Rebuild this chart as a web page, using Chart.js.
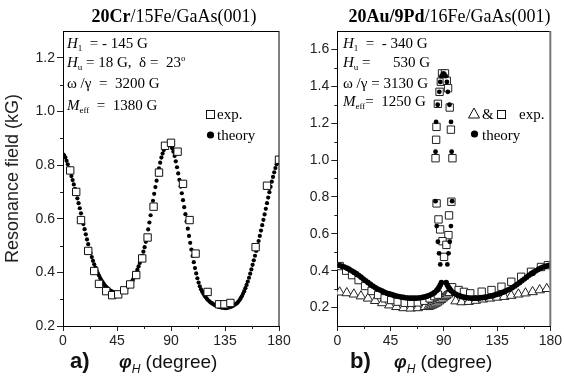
<!DOCTYPE html>
<html>
<head>
<meta charset="utf-8">
<script src="https://cdn.jsdelivr.net/npm/chart.js@4.4.0/dist/chart.umd.min.js"></script>
<style>
  body { margin: 0; background: #fff; }
  #wrap { position: relative; width: 564px; height: 377px; overflow: hidden; }
  canvas { position: absolute; top: 0; }
</style>
</head>
<body>
<div id="wrap">
  <canvas id="chartA" width="300" height="377" style="left:0"></canvas>
  <canvas id="chartB" width="282" height="377" style="left:282px"></canvas>
</div>
<script>
// ---- panel a) 20Cr/15Fe/GaAs(001) ----
const xTicks = [0, 45, 90, 135, 180];
const yTicksA = [0.2, 0.4, 0.6, 0.8, 1.0, 1.2];
const yTicksB = [0.2, 0.4, 0.6, 0.8, 1.0, 1.2, 1.4, 1.6];

const phiTheoryA = Array.from({ length: 181 }, (_, i) => i);
const fieldTheoryA = [
  .840, .836, .828, .816, .803, .789, .774, .759, .744, .728,
  .711, .694, .676, .658, .639, .620, .600, .580, .561, .542,
  .523, .505, .488, .472, .457, .443, .430, .418, .407, .397,
  .388, .379, .371, .364, .357, .351, .346, .341, .337, .333,
  .330, .328, .326, .324, .323, .322, .322, .323, .325, .327,
  .329, .332, .336, .341, .346, .351, .357, .364, .371, .380,
  .389, .399, .410, .422, .435, .448, .462, .477, .494, .514,
  .536, .560, .586, .613, .640, .667, .693, .718, .742, .765,
  .788, .809, .828, .843, .856, .866, .873, .877, .879, .877,
  .872, .863, .850, .834, .814, .792, .769, .745, .720, .695,
  .669, .643, .617, .590, .563, .536, .510, .485, .461, .438,
  .416, .396, .378, .362, .348, .337, .328, .320, .313, .307,
  .301, .296, .292, .288, .285, .282, .279, .277, .275, .273,
  .271, .270, .269, .268, .268, .267, .267, .268, .269, .270,
  .272, .274, .276, .279, .282, .285, .290, .296, .303, .311,
  .320, .330, .341, .353, .366, .380, .395, .411, .428, .445,
  .462, .480, .498, .517, .536, .556, .576, .596, .616, .637,
  .658, .679, .699, .719, .738, .756, .773, .789, .803, .815, .825
];
const phiExpA = [6, 11, 15, 21, 26, 30, 36, 41, 46, 51, 56, 61, 66, 70.5, 75.5, 80, 85, 90, 95.5,
  100, 105.5, 110.5, 120.5, 130, 134.5, 139.5, 160.5, 170, 180];
const fieldExpA = [.78, .70, .595, .48, .405, .357, .33, .315, .318, .333, .355, .39, .452, .53, .645,
  .772, .872, .883, .85, .73, .595, .47, .327, .281, .281, .286, .494, .723, .82];

// ---- panel b) 20Au/9Pd/16Fe/GaAs(001) ----
const phiTheoryB = [0, 2, 4, 6, 8, 10, 12, 14, 16, 18, 20, 22, 24, 26, 28, 30, 32, 34, 36, 38, 40, 42, 44,
  46, 48, 50, 52, 54, 56, 58, 60, 62, 64, 66, 68, 70, 72, 74, 76, 78, 80, 82, 84, 85, 86, 87, 88,
  92, 93, 94, 95, 96, 98, 100, 102, 104, 106, 108, 110, 112, 114, 116, 118, 120, 122, 124, 126, 128,
  130, 132, 134, 136, 138, 140, 142, 144, 146, 148, 150, 152, 154, 156, 158, 160, 162, 164, 166, 168,
  170, 172, 174, 176, 178, 180];
const fieldTheoryB = [.430, .428, .424, .420, .414, .408, .400, .392, .384, .375, .365, .355, .345, .335,
  .326, .317, .309, .301, .295, .289, .283, .278, .274, .270, .266, .263, .260, .257, .255, .253, .252,
  .251, .251, .251, .252, .253, .255, .258, .262, .267, .273, .281, .292, .300, .310, .322, .335,
  .335, .322, .310, .300, .292, .281, .273, .267, .262, .258, .255, .253, .252, .251, .251, .251, .252,
  .253, .255, .257, .260, .263, .266, .270, .274, .278, .283, .289, .295, .301, .309, .317, .326, .335,
  .345, .355, .365, .375, .384, .392, .400, .408, .414, .420, .424, .428, .430];
const phiPeakB = [87, 93, 86, 94, 85, 95, 84, 96, 83, 97, 83, 96.6, 83.5, 96.1, 84.8, 94.8, 86.2, 93.4,
  87, 92.6, 88, 91.6, 89, 90.6, 89.8];
const fieldPeakB = [.434, .434, .494, .494, .557, .557, .642, .642, .777, .777, 1.045, 1.045, 1.207, 1.207,
  1.30, 1.30, 1.37, 1.37, 1.424, 1.424, 1.455, 1.455, 1.465, 1.465, 1.47];
const phiSquareB = [2, 7.5, 12.5, 18, 23.5, 29, 34.5, 40, 45.5, 51, 57, 62.5, 68, 73.5, 78, 82, 85,
  83, 97.3, 83.5, 83.8, 96, 85, 95, 86.4, 93.6, 87.5, 92.5, 88.5, 91,
  83.9, 96.4, 94.4, 85.5, 86.9, 93.9, 88.9, 92.2, 90.2,
  97, 102.5, 107, 112.3, 122, 130.3, 138.7, 147, 155.4, 163.7, 172.1, 178];
const fieldSquareB = [.425, .40, .376, .349, .317, .29, .268, .25, .241, .232, .226, .226, .228, .237, .25, .262, .27,
  1.01, 1.01, 1.11, 1.18, 1.165, 1.305, 1.285, 1.37, 1.39, 1.425, 1.43, 1.47, 1.47,
  .765, .774, .70, .678, .624, .593, .56, .54, .475,
  .31, .295, .285, .277, .286, .295, .313, .34, .367, .394, .42, .43];
const phiTriangleB = [2, 8, 14, 20, 26, 32, 38, 44, 50, 56, 62, 68, 74,
  77, 78.5, 80, 81.5, 83, 84.5, 86, 87.5, 89, 90.5, 92, 93.5, 95,
  100, 105, 111, 117, 123, 129, 135, 141, 147, 153, 159, 165, 171, 177];
const fieldTriangleB = [.283, .279, .272, .262, .25, .237, .225, .213, .204, .198, .196, .198, .204,
  .205, .208, .212, .217, .222, .228, .235, .242, .25, .258, .265, .272, .28,
  .235, .230, .232, .238, .245, .25, .255, .259, .265, .272, .278, .285, .295, .302];

const axisFont = { family: 'Liberation Sans', size: 14 };
const serif = 'Liberation Serif';
const sans = 'Liberation Sans';

function pts(xs, ys) {
  return xs.map((x, i) => ({ x: x, y: ys[i] }));
}

function drawRich(ctx, x, y, segs, align) {
  let w = 0;
  segs.forEach(s => { ctx.font = s.f; w += ctx.measureText(s.t).width; });
  let cx = align === 'center' ? x - w / 2 : x;
  ctx.textAlign = 'left';
  ctx.textBaseline = 'alphabetic';
  segs.forEach(s => {
    ctx.font = s.f;
    ctx.fillText(s.t, cx, y + (s.dy || 0));
    cx += ctx.measureText(s.t).width;
  });
}

// frame on top/right, minor ticks, and all the text
function panelPlugin(cfg) {
  return {
    id: 'panel',
    afterDraw(chart) {
      const ctx = chart.ctx;
      const a = chart.chartArea;
      const xs = chart.scales.x, ys = chart.scales.y;
      ctx.save();
      ctx.lineWidth = 1;
      ctx.strokeStyle = '#000';
      ctx.beginPath();
      ctx.moveTo(a.left, a.top + 0.5);
      ctx.lineTo(a.right, a.top + 0.5);
      ctx.stroke();
      ctx.strokeStyle = cfg.rightColor;
      ctx.lineWidth = cfg.rightWidth;
      ctx.beginPath();
      ctx.moveTo(a.right, a.top);
      ctx.lineTo(a.right, a.bottom);
      ctx.stroke();
      // minor ticks
      ctx.strokeStyle = '#222';
      ctx.lineWidth = 1;
      ctx.beginPath();
      cfg.minorY.forEach(v => {
        const py = Math.round(ys.getPixelForValue(v)) + 0.5;
        ctx.moveTo(a.left - 3, py);
        ctx.lineTo(a.left, py);
      });
      cfg.minorX.forEach(v => {
        const px = Math.round(xs.getPixelForValue(v)) + 0.5;
        ctx.moveTo(px, a.bottom);
        ctx.lineTo(px, a.bottom + 3);
      });
      ctx.stroke();

      ctx.fillStyle = '#000';
      drawRich(ctx, cfg.titleX, 22, cfg.title, 'center');
      cfg.notes.forEach(n => drawRich(ctx, n.x, n.y, n.segs));
      cfg.legend(ctx);
      ctx.fillStyle = '#111';
      drawRich(ctx, cfg.tagX, 368, [{ t: cfg.tag, f: 'bold 22px ' + sans }]);
      drawRich(ctx, cfg.labelX, 368, [
        { t: 'φ', f: 'bold italic 18px ' + sans },
        { t: 'H', f: 'italic 12px ' + sans, dy: 5 },
        { t: ' (degree)', f: '19px ' + sans }
      ]);
      ctx.restore();
    }
  };
}

function ital(t) { return { t: t, f: 'italic 15px ' + serif }; }
function rom(t) { return { t: t, f: '15px ' + serif }; }
function sub(t) { return { t: t, f: '9px ' + serif, dy: 3 }; }
function sup(t) { return { t: t, f: '9px ' + serif, dy: -6 }; }

function makeChart(id, datasets, yMin, yMax, yTicks, yWidth, padRight, yTitle, plugin) {
  return new Chart(document.getElementById(id), {
    type: 'scatter',
    data: { datasets: datasets },
    options: {
      responsive: false,
      animation: false,
      layout: { padding: { left: 0, right: padRight, top: 31, bottom: 0 } },
      plugins: { legend: { display: false }, tooltip: { enabled: false } },
      scales: {
        x: {
          type: 'linear', min: 0, max: 180,
          afterBuildTicks: s => { s.ticks = xTicks.map(v => ({ value: v })); },
          ticks: { font: axisFont, color: '#222', padding: 2, maxRotation: 0 },
          grid: { drawOnChartArea: false, tickLength: 5, color: '#222' },
          border: { color: '#000', width: 1 },
          afterFit: s => { s.height = 51; }
        },
        y: {
          type: 'linear', min: yMin, max: yMax,
          afterBuildTicks: s => { s.ticks = yTicks.map(v => ({ value: v })); },
          ticks: {
            font: axisFont, color: '#222', padding: 2,
            callback: v => v.toFixed(1)
          },
          grid: { drawOnChartArea: false, tickLength: 6, color: '#222' },
          border: { color: '#000', width: 1 },
          title: {
            display: !!yTitle, text: yTitle || '', color: '#222',
            font: { family: 'Liberation Sans', size: 18 }, padding: { top: 2, bottom: 0 }
          },
          afterFit: s => { s.width = yWidth; }
        }
      }
    },
    plugins: [plugin]
  });
}

makeChart('chartA', [
  {
    data: pts(phiExpA, fieldExpA), pointStyle: 'rect', pointRadius: 5.2,
    backgroundColor: '#fff', borderColor: '#111', borderWidth: 1, order: 1
  },
  {
    data: pts(phiTheoryA, fieldTheoryA), pointStyle: 'circle', pointRadius: 2.1,
    backgroundColor: '#000', borderColor: '#000', borderWidth: 0, order: 2
  }
], 0.2, 1.3, yTicksA, 63, 21, 'Resonance field (kG)', panelPlugin({
  rightColor: '#000', rightWidth: 1,
  minorY: [0.3, 0.5, 0.7, 0.9, 1.1],
  minorX: [22.5, 67.5, 112.5, 157.5],
  titleX: 174,
  title: [{ t: '20Cr', f: 'bold 18px ' + serif }, { t: '/15Fe/GaAs(001)', f: '18px ' + serif }],
  notes: [
    { x: 67, y: 48, segs: [ital('H'), sub('1'), rom('  = - 145 G')] },
    { x: 67, y: 67, segs: [ital('H'), sub('u'), rom(' = 18 G,  δ =  23'), sup('o')] },
    { x: 67, y: 88, segs: [rom('ω /γ  =  3200 G')] },
    { x: 67, y: 110, segs: [ital('M'), sub('eff'), rom('  =  1380 G')] }
  ],
  legend(ctx) {
    ctx.strokeStyle = '#111';
    ctx.lineWidth = 1;
    ctx.fillStyle = '#fff';
    ctx.fillRect(206.5, 110.5, 8, 8);
    ctx.strokeRect(206.5, 110.5, 8, 8);
    ctx.fillStyle = '#000';
    ctx.beginPath();
    ctx.arc(210.5, 135, 3.6, 0, Math.PI * 2);
    ctx.fill();
    drawRich(ctx, 217, 119, [rom('exp.')]);
    drawRich(ctx, 217, 140, [rom('theory')]);
  },
  tag: 'a)', tagX: 70, labelX: 119
}));

makeChart('chartB', [
  {
    data: pts(phiPeakB, fieldPeakB), pointStyle: 'circle', pointRadius: 2.4,
    backgroundColor: '#000', borderWidth: 0, order: 1
  },
  {
    data: pts(phiTheoryB, fieldTheoryB), pointStyle: 'circle', pointRadius: 2.8,
    backgroundColor: '#000', borderWidth: 0, order: 2
  },
  {
    data: pts(phiSquareB, fieldSquareB), pointStyle: 'rect', pointRadius: 5.2,
    backgroundColor: '#fff', borderColor: '#222', borderWidth: 1, order: 3
  },
  {
    data: pts(phiTriangleB, fieldTriangleB), pointStyle: 'triangle', pointRadius: 5.5,
    backgroundColor: '#fff', borderColor: '#222', borderWidth: 1, order: 4
  }
], 0.1, 1.7, yTicksB, 55.3, 11.3, '', panelPlugin({
  rightColor: '#777', rightWidth: 2,
  minorY: [0.3, 0.5, 0.7, 0.9, 1.1, 1.3, 1.5],
  minorX: [22.5, 67.5, 112.5, 157.5],
  titleX: 167.5,
  title: [{ t: '20Au/9Pd', f: 'bold 18px ' + serif }, { t: '/16Fe/GaAs(001)', f: '18px ' + serif }],
  notes: [
    { x: 61, y: 48, segs: [ital('H'), sub('1'), rom('  =  - 340 G')] },
    { x: 61, y: 67, segs: [ital('H'), sub('u'), rom(' =      530 G')] },
    { x: 61, y: 88, segs: [rom('ω /γ = 3130 G')] },
    { x: 61, y: 106, segs: [ital('M'), sub('eff'), rom('=  1250 G')] }
  ],
  legend(ctx) {
    ctx.strokeStyle = '#111';
    ctx.lineWidth = 1;
    ctx.beginPath();
    ctx.moveTo(192, 108);
    ctx.lineTo(197.5, 118);
    ctx.lineTo(186.5, 118);
    ctx.closePath();
    ctx.stroke();
    ctx.strokeRect(215.5, 110.5, 8, 8);
    ctx.fillStyle = '#000';
    ctx.beginPath();
    ctx.arc(192.5, 134, 3.6, 0, Math.PI * 2);
    ctx.fill();
    drawRich(ctx, 200, 119, [rom('&')]);
    drawRich(ctx, 237, 119, [rom('exp.')]);
    drawRich(ctx, 200, 140, [rom('theory')]);
  },
  tag: 'b)', tagX: 68, labelX: 112
}));
</script>
</body>
</html>
